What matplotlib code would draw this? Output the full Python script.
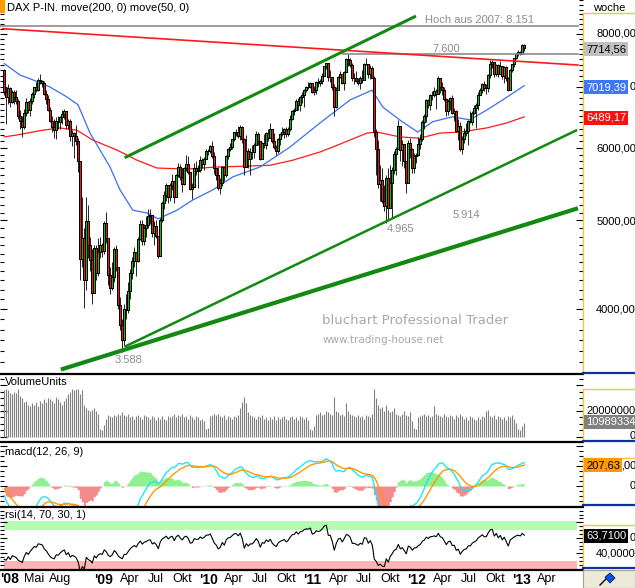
import numpy as np
import pandas as pd
import matplotlib
matplotlib.use('Agg')
import matplotlib.pyplot as plt
import matplotlib.dates as mdates
from matplotlib.lines import Line2D
from matplotlib.patches import Rectangle, Polygon
from matplotlib.ticker import FixedLocator, NullFormatter

plt.rcParams['font.family'] = ['Liberation Sans', 'DejaVu Sans']

# weekly closes before the visible range, only used to warm up macd / rsi
pre_close = [8060, 8090, 7900, 7450, 7450, 7450, 7270, 7560, 7640, 7450,
             7530, 7800, 7860, 7960, 8020, 7800, 7920, 7830, 7610, 7690,
             7570, 7870, 8030, 7950, 7990, 8070, 7810, 7300]

# weekly candles, Fri 18.01.2008 .. Fri 11.01.2013
close = [
    # 2008
    6900, 6820, 6970, 6730, 6900, 6830, 6750, 6510, 6420, 6320,
    6560, 6740, 6600, 6750, 6870, 6990, 6950, 7120, 7100, 7070,
    6880, 6780, 6600, 6420, 6330, 6280, 6420, 6400, 6480, 6540,
    6580, 6350, 6420, 6180, 6230, 6190, 6100, 5800, 4540, 4780,
    4300, 4990, 4700, 4530, 4170, 4670, 4380, 4620, 4700, 4630,
    # 2009
    4970, 4780, 4360, 4220, 4340, 4650, 4450, 4040, 3840, 3700,
    4000, 3990, 4190, 4380, 4520, 4620, 4510, 4770, 4950, 4750,
    4900, 4940, 5050, 5070, 4840, 4930, 4810, 4570, 5000, 5230,
    5330, 5460, 5310, 5460, 5520, 5300, 5600, 5720, 5580, 5480,
    5700, 5760, 5650, 5410, 5440, 5700, 5660, 5680, 5820, 5760,
    5830, 5960,
    # 2010
    5960, 6030, 5880, 5700, 5610, 5430, 5500, 5720, 5600, 5880,
    5990, 6020, 6130, 6240, 6250, 6180, 6330, 6140, 5720, 5950,
    5830, 5940, 5940, 6050, 6220, 6100, 5830, 6070, 6040, 6230,
    6150, 6290, 6110, 6010, 5950, 6130, 6210, 6250, 6300, 6210,
    6290, 6450, 6580, 6600, 6750, 6680, 6820, 6850, 6950, 7000,
    6990, 7060, 6910,
    # 2011
    6950, 7080, 7060, 7100, 7200, 7370, 7430, 7180, 7180, 7000,
    6660, 6950, 7180, 7220, 7070, 7260, 7510, 7490, 7400, 7150,
    7160, 7110, 7070, 7160, 7120, 7420, 7410, 7220, 7340, 7160,
    6240, 5990, 5480, 5540, 5250, 5190, 5570, 5160, 5500, 5680,
    5910, 5980, 6340, 5970, 6060, 5800, 5490, 6080, 5990, 5700,
    5880, 5900,
    # 2012
    6060, 6140, 6400, 6510, 6770, 6690, 6850, 6860, 6920, 6880,
    7160, 6990, 6950, 6780, 6580, 6760, 6800, 6560, 6580, 6270,
    6340, 5980, 6130, 6230, 6260, 6420, 6410, 6560, 6630, 6690,
    6860, 6940, 7040, 6970, 6970, 7210, 7410, 7450, 7220, 7400,
    7230, 7380, 7200, 7360, 7160, 6950, 7310, 7410, 7520, 7600,
    7640, 7610,
    # 2013
    7780, 7714.56]

high = [
    7320, 7000, 7050, 7000, 6950, 6950, 6950, 6780, 6600, 6500,
    6620, 6800, 6760, 6800, 6900, 7000, 7080, 7160, 7230, 7120,
    7100, 6950, 6850, 6650, 6500, 6450, 6480, 6500, 6500, 6600,
    6620, 6580, 6460, 6450, 6280, 6250, 6350, 6150, 5800, 5300,
    4900, 5300, 5200, 4800, 4650, 4700, 4700, 4780, 4800, 4720,
    4990, 5110, 4750, 4450, 4500, 4680, 4700, 4450, 4120, 3900,
    4050, 4150, 4280, 4420, 4560, 4680, 4620, 4800, 5000, 5000,
    4950, 5050, 5150, 5150, 5070, 4990, 5000, 4800, 5030, 5250,
    5380, 5500, 5460, 5500, 5620, 5500, 5620, 5780, 5760, 5700,
    5720, 5890, 5880, 5650, 5500, 5780, 5800, 5750, 5880, 5850,
    5870, 5980,
    5990, 6050, 6100, 5940, 5710, 5720, 5560, 5730, 5700, 5890,
    6000, 6080, 6140, 6250, 6290, 6340, 6350, 6340, 6150, 6200,
    6000, 6000, 6050, 6080, 6270, 6250, 6100, 6090, 6220, 6240,
    6300, 6390, 6290, 6230, 6050, 6150, 6230, 6320, 6310, 6330,
    6330, 6520, 6600, 6640, 6790, 6800, 6840, 6900, 6960, 7020,
    7080, 7080, 7040,
    7020, 7100, 7160, 7140, 7240, 7380, 7440, 7400, 7300, 7180,
    7050, 7000, 7200, 7280, 7230, 7280, 7520, 7600, 7520, 7430,
    7240, 7280, 7160, 7200, 7300, 7430, 7520, 7420, 7400, 7380,
    7200, 6300, 6120, 5750, 5700, 5460, 5600, 5700, 5750, 5720,
    5950, 6020, 6430, 6300, 6120, 6000, 5760, 6120, 6150, 6000,
    5920, 5930,
    6170, 6220, 6440, 6540, 6780, 6790, 6880, 6930, 6990, 6960,
    7190, 7130, 7080, 7000, 6800, 6790, 6830, 6860, 6630, 6600,
    6450, 6400, 6190, 6310, 6390, 6440, 6580, 6580, 6680, 6720,
    6900, 6970, 7060, 7110, 7050, 7230, 7480, 7480, 7440, 7420,
    7410, 7460, 7330, 7380, 7370, 7170, 7320, 7420, 7530, 7620,
    7670, 7660,
    7800, 7790]

low = [
    6850, 6380, 6700, 6650, 6720, 6700, 6700, 6450, 6300, 6170,
    6300, 6500, 6550, 6500, 6700, 6800, 6900, 6930, 7050, 7000,
    6850, 6700, 6580, 6400, 6250, 6150, 6130, 6300, 6300, 6380,
    6450, 6300, 6300, 6100, 6030, 5850, 6050, 5650, 4300, 4450,
    4014, 4200, 4550, 4400, 4050, 4200, 4300, 4350, 4550, 4560,
    4600, 4720, 4250, 4150, 4200, 4280, 4400, 4000, 3800, 3588,
    3650, 3900, 3960, 4100, 4320, 4450, 4350, 4500, 4760, 4700,
    4700, 4800, 4900, 4950, 4800, 4700, 4780, 4550, 4580, 4980,
    5150, 5250, 5230, 5250, 5400, 5230, 5300, 5580, 5530, 5370,
    5460, 5660, 5620, 5400, 5280, 5450, 5600, 5420, 5650, 5700,
    5680, 5830,
    5900, 5920, 5850, 5620, 5540, 5400, 5350, 5450, 5520, 5580,
    5840, 5950, 5990, 6100, 6180, 6150, 6120, 6080, 5600, 5800,
    5700, 5600, 5840, 5850, 6050, 6050, 5820, 5840, 6000, 5980,
    6100, 6150, 6070, 5990, 5900, 5930, 6050, 6190, 6150, 6170,
    6180, 6270, 6440, 6520, 6600, 6600, 6580, 6720, 6650, 6900,
    6960, 6970, 6890,
    6850, 6880, 7000, 7010, 7050, 7200, 7320, 7100, 7080, 6950,
    6500, 6640, 6950, 7150, 7050, 6950, 7260, 7380, 7350, 7100,
    7050, 7080, 7030, 6960, 7060, 7130, 7390, 7150, 7130, 7150,
    6170, 5600, 5430, 5250, 5220, 5120, 4965, 5000, 5180, 5030,
    5620, 5600, 5990, 5800, 5740, 5700, 5360, 5520, 5850, 5640,
    5630, 5780,
    5880, 5980, 6100, 6300, 6400, 6640, 6600, 6770, 6820, 6620,
    6900, 6890, 6850, 6760, 6500, 6520, 6600, 6530, 6420, 6250,
    6120, 5960, 5914, 6080, 6180, 6050, 6390, 6350, 6530, 6310,
    6600, 6860, 6890, 6930, 6870, 6900, 7150, 7340, 7180, 7200,
    7170, 7230, 7130, 7070, 7110, 6920, 6960, 7270, 7360, 7500,
    7560, 7580,
    7600, 7660]

# weekly volume in millions of units
volume_m = [
    36, 37, 36, 34, 33, 35, 34, 37, 32, 30,
    27, 28, 25, 24, 26, 25, 27, 24, 28, 26,
    29, 27, 30, 29, 28, 26, 31, 29, 27, 25,
    28, 30, 33, 35, 37, 36, 37, 37, 33, 36,
    25, 22, 21, 20, 21, 22, 20, 18, 6, 5,
    9, 14, 17, 16, 15, 17, 16, 18, 17, 19,
    17, 16, 18, 15, 16, 14, 16, 17, 15, 14,
    17, 16, 15, 14, 16, 15, 13, 15, 14, 16,
    14, 13, 16, 15, 16, 18, 15, 17, 16, 18,
    15, 16, 14, 17, 15, 14, 16, 15, 13, 14,
    12, 6,
    7, 16, 17, 18, 17, 18, 16, 15, 17, 14,
    16, 15, 14, 16, 15, 17, 22, 27, 31, 26,
    19, 17, 16, 15, 14, 16, 15, 17, 14, 15,
    13, 15, 14, 16, 13, 15, 14, 15, 16, 14,
    13, 15, 16, 14, 15, 13, 16, 15, 14, 15,
    13, 6, 5,
    8, 17, 18, 19, 17, 18, 20, 19, 18, 17,
    31, 20, 19, 17, 18, 16, 26, 20, 18, 17,
    16, 15, 17, 15, 16, 14, 17, 16, 15, 18,
    37, 30, 25, 22, 23, 20, 25, 21, 19, 20,
    22, 18, 17, 16, 18, 20, 17, 16, 19, 12,
    7, 6,
    15, 16, 17, 18, 16, 17, 15, 16, 24, 18,
    17, 16, 15, 18, 16, 15, 17, 16, 14, 17,
    15, 18, 16, 14, 15, 13, 16, 15, 14, 13,
    15, 14, 16, 15, 20, 21, 16, 15, 17, 14,
    16, 15, 14, 15, 13, 16, 15, 17, 14, 11,
    6, 5,
    8, 10.989334]

# moving averages
ma200_dates = ['2008-01-18', '2008-03-02', '2008-06-01', '2008-07-31', '2008-09-28',
               '2008-11-23', '2009-02-15', '2009-04-26', '2009-07-05', '2009-10-18',
               '2010-01-31', '2010-05-02', '2010-08-05', '2010-10-25', '2011-01-27',
               '2011-03-13', '2011-07-11', '2011-08-15', '2011-11-02', '2012-01-11',
               '2012-03-22', '2012-05-31', '2012-09-01', '2012-11-10', '2013-01-11']
ma200_vals = [6170, 6200, 6275, 6310, 6275, 6120, 5970, 5820, 5705, 5690,
              5720, 5730, 5745, 5820, 5940, 6015, 6230, 6245, 6170, 6150,
              6230, 6245, 6310, 6390, 6489.17]
ma50_dates = ['2008-01-18', '2008-03-13', '2008-04-28', '2008-06-26', '2008-08-25',
              '2008-10-02', '2008-11-13', '2009-01-22', '2009-02-26', '2009-04-12',
              '2009-05-31', '2009-07-09', '2009-09-13', '2009-11-08', '2010-01-17',
              '2010-03-28', '2010-07-01', '2010-10-14', '2011-01-27', '2011-05-12',
              '2011-07-28', '2011-09-04', '2011-11-02', '2012-01-04', '2012-02-25',
              '2012-05-05', '2012-07-04', '2012-09-01', '2012-10-27', '2013-01-11']
ma50_vals = [7420, 7210, 7120, 6995, 6820, 6690, 6230, 5720, 5400, 5130,
             5095, 5020, 5130, 5265, 5400, 5580, 5720, 6015, 6390, 6770,
             6940, 6650, 6440, 6245, 6410, 6490, 6440, 6600, 6770, 7019.39]

# trend lines: two dates, two prices
res_dates, res_vals = ['2008-01-13', '2013-07-18'], [8100, 7393]
top_dates, top_vals = ['2009-03-19', '2011-12-24'], [5865, 8348]
mid_dates, mid_vals = ['2009-03-19', '2013-07-11'], [3645, 6270]
low_dates, low_vals = ['2008-08-10', '2013-07-11'], [3441, 5148]

tick_dates = ['2008-05-01', '2008-08-01', '2009-01-01', '2009-04-01', '2009-07-01',
              '2009-10-01', '2010-01-01', '2010-04-01', '2010-07-01', '2010-10-01',
              '2011-01-01', '2011-04-01', '2011-07-01', '2011-10-01', '2012-01-01',
              '2012-04-01', '2012-07-01', '2012-10-01', '2013-01-01', '2013-04-01']
tick_labels = ['Mai', 'Aug', "'09", 'Apr', 'Jul', 'Okt', "'10", 'Apr', 'Jul', 'Okt',
               "'11", 'Apr', 'Jul', 'Okt', "'12", 'Apr', 'Jul', 'Okt', "'13", 'Apr']

# ---------------------------------------------------------------- layout
W, H = 635, 588
fig = plt.figure(figsize=(W / 100, H / 100), dpi=100)
fig.patch.set_facecolor('white')


def rect(x0, y0, x1, y1):
    return [x0 / W, 1 - y1 / H, (x1 - x0) / W, (y1 - y0) / H]


def fx(x):
    return x / W


def fy(y):
    return 1 - y / H


def ftext(x, y, s, **kw):
    kw.setdefault('va', 'center')
    kw.setdefault('fontsize', 8)
    return fig.text(fx(x), fy(y), s, **kw)


def fline(x0, y0, x1, y1, **kw):
    fig.add_artist(Line2D([fx(x0), fx(x1)], [fy(y0), fy(y1)], **kw))


t0 = mdates.date2num(pd.Timestamp('2009-01-01'))
xlim = (t0 + (0 - 104) * 3.5, t0 + (583 - 104) * 3.5)


def price_at(y):
    return 6000 * 10 ** ((148 - y) / 915)


weeks = pd.date_range('2008-01-18', periods=len(close), freq='W-FRI')
d = mdates.date2num(weeks)
c = np.array(close, dtype=float)
o = np.array([pre_close[-1]] + close[:-1], dtype=float)
hi = np.array(high, dtype=float)
lo = np.array(low, dtype=float)


def setup(ax, ylim):
    ax.set_xlim(*xlim)
    ax.set_ylim(*ylim)
    for s in ax.spines.values():
        s.set_visible(False)
    ax.set_xticks([])
    ax.tick_params(axis='y', which='both', left=True, right=True, direction='in',
                   labelleft=False, labelright=False, width=0.8)
    ax.tick_params(axis='y', which='major', length=5)
    ax.tick_params(axis='y', which='minor', length=3)


# ---------------------------------------------------------------- price panel
ax = fig.add_axes(rect(0, 0, 583, 373))
ax.set_yscale('log')
setup(ax, (price_at(373), price_at(0)))
ax.yaxis.set_major_locator(FixedLocator([4000, 5000, 6000, 7000, 8000]))
ax.yaxis.set_minor_locator(FixedLocator(np.arange(3500, 8800, 100)))
ax.yaxis.set_major_formatter(NullFormatter())
ax.yaxis.set_minor_formatter(NullFormatter())

ax.plot(pd.to_datetime(ma200_dates), ma200_vals, color='#ff1a1a', lw=0.9, zorder=2)
ax.plot(pd.to_datetime(ma50_dates), ma50_vals, color='#3a6ff0', lw=0.9, zorder=2)

up = c >= o
ax.vlines(d, lo, hi, color='black', lw=0.6, zorder=3)
ax.bar(d, np.abs(c - o), bottom=np.minimum(o, c), width=6,
       color=np.where(up, '#1fb41f', '#e81818'), edgecolor='black', linewidth=0.4,
       antialiased=False, zorder=4)

ax.plot([xlim[0], mdates.date2num(pd.Timestamp('2013-07-18'))], [8151, 8151],
        color='#8c8c8c', lw=1.2, zorder=5)
ax.plot(pd.to_datetime(['2011-04-17', '2013-07-18']), [7600, 7600],
        color='#8c8c8c', lw=1.2, zorder=5)
ax.plot(pd.to_datetime(res_dates), res_vals, color='#ff1a1a', lw=1.2, zorder=5)
ax.plot(pd.to_datetime(top_dates), top_vals, color='#128a12', lw=2.2, zorder=5)
ax.plot(pd.to_datetime(mid_dates), mid_vals, color='#128a12', lw=1.8, zorder=5)
ax.plot(pd.to_datetime(low_dates), low_vals, color='#128a12', lw=3.0, zorder=5)

grey = '#8c8c8c'
ftext(425, 20, 'Hoch aus 2007: 8.151', color=grey)
ftext(432, 49, '7.600', color=grey)
ftext(115, 360, '3.588', color=grey)
ftext(387, 229, '4.965', color=grey)
ftext(453, 215, '5.914', color=grey)
ftext(322, 320, 'bluchart Professional Trader', color='#a8a8a8', fontsize=9.5,
      family='DejaVu Sans')
ftext(323, 340, 'www.trading-house.net', color='#a8a8a8', fontsize=7.5,
      family='DejaVu Sans')

fig.patches.append(Rectangle((0, fy(12)), fx(4), 12 / H, transform=fig.transFigure,
                             color='#ff9c00', zorder=6))
ftext(7, 8, 'DAX P-IN. move(200, 0) move(50, 0)')
ftext(593, 8, 'woche')

# ---------------------------------------------------------------- volume panel
axv = fig.add_axes(rect(0, 375, 583, 441))
setup(axv, (-(441 - 436.7) / 1.285 * 1e6, (436.7 - 375) / 1.285 * 1e6))
axv.yaxis.set_major_locator(FixedLocator([0, 20e6, 40e6]))
axv.yaxis.set_minor_locator(FixedLocator(np.arange(0, 50e6, 5e6)))
axv.vlines(d, 0, np.array(volume_m) * 1e6, color='#808080', lw=0.8)
ftext(5, 382, 'VolumeUnits')

# ---------------------------------------------------------------- macd panel
allc = pd.Series(pre_close + close, dtype=float)
macd = allc.ewm(span=12, adjust=False).mean() - allc.ewm(span=26, adjust=False).mean()
signal = macd.ewm(span=9, adjust=False).mean()
n = len(close)
macd = macd.values[-n:]
signal = signal.values[-n:]
hist = macd - signal

axm = fig.add_axes(rect(0, 443, 583, 506))
setup(axm, (-(506 - 486) / 0.1, (486 - 443) / 0.1))
axm.yaxis.set_major_locator(FixedLocator([0, 200, 400]))
axm.yaxis.set_minor_locator(FixedLocator(np.arange(-200, 450, 50)))
axm.fill_between(d, 0, np.clip(hist, 0, None), step='mid', color='#8ef08e', lw=0)
axm.fill_between(d, 0, np.clip(hist, None, 0), step='mid', color='#f58a8a', lw=0)
axm.plot(d, macd, color='#22e4f4', lw=1)
axm.plot(d, signal, color='#ff9900', lw=1)
ftext(5, 452, 'macd(12, 26, 9)')

# ---------------------------------------------------------------- rsi panel
delta = allc.diff()
gain = delta.clip(lower=0).ewm(alpha=1 / 14, adjust=False).mean()
loss = (-delta.clip(upper=0)).ewm(alpha=1 / 14, adjust=False).mean()
rsi = (100 - 100 / (1 + gain / loss)).values[-n:]

axr = fig.add_axes(rect(0, 508, 583, 569))
r_lo, r_hi = 70 - (569 - 530) / 0.775, 70 + (530 - 508) / 0.775
setup(axr, (r_lo, r_hi))
axr.yaxis.set_major_locator(FixedLocator([40, 60, 80]))
axr.yaxis.set_minor_locator(FixedLocator(np.arange(20, 100, 5)))
band_x = [t0 + (4 - 104) * 3.5, t0 + (577 - 104) * 3.5]
axr.fill_between(band_x, 70, 81.6, color='#b4fcb4', lw=0)
axr.fill_between(band_x, r_lo, 30, color='#fcb4b4', lw=0)
axr.plot(d, rsi, color='black', lw=0.8)
ftext(5, 515, 'rsi(14, 70, 30, 1)')

axr.set_xticks(mdates.date2num(pd.to_datetime(tick_dates)))
axr.set_xticklabels(tick_labels)
axr.tick_params(axis='x', length=0, pad=3, labelsize=9)
for lab in axr.get_xticklabels():
    if lab.get_text().startswith("'"):
        lab.set_fontweight('bold')
        lab.set_fontsize(10)
ftext(0, 579, "'08", fontsize=10, fontweight='bold')

# ---------------------------------------------------------------- frames
for y in (374, 442, 507, 570):
    fline(0, y, 583, y, color='black', lw=1.6)
for top, bot in ((13, 372.5), (389, 441), (458, 504.5), (525, 568)):
    fline(583, top, 635, top, color='#f2c53d', lw=1)
    fline(583, top, 583, bot, color='#f2c53d', lw=1)
    fline(583, bot, 635, bot, color='#1030a0', lw=1.6)

# right axis labels; where a value box sits on a label only its tail shows
for v, y in ((8000, 34), (6000, 148), (5000, 221), (4000, 309)):
    ftext(636, y, f'{v},00', ha='right')
ftext(636, 87, '0', ha='right')
ftext(636, 411, '20000000', ha='right')
ftext(636, 436, '0', ha='right')
ftext(636, 465, ',00', ha='right')
ftext(636, 486, '0', ha='right')
ftext(636, 538, '0', ha='right')
ftext(636, 553, '40,0000', ha='right')


def valbox(y, s, bg, fg):
    ftext(586, y, s, color=fg, bbox=dict(facecolor=bg, edgecolor='none', pad=1.2), zorder=8)


valbox(49, '7714,56', '#c0c0c0', 'black')
valbox(87, '7019,39', '#3c78f5', 'white')
valbox(118, '6489,17', '#ff1010', 'white')
valbox(422, '10989334', '#808080', 'white')
valbox(465, '207,63', '#ff9900', 'black')
valbox(536, '63,7100', 'black', 'white')

# bottom right button with pin
fig.patches.append(Rectangle((fx(583), 0), fx(52), 18 / H, transform=fig.transFigure,
                             facecolor='#ece9d8', edgecolor='#a0a0a0', lw=0.8, zorder=6))
fline(600, 585, 607, 578, color='black', lw=1, zorder=7)
fig.patches.append(Polygon([(fx(605), fy(577)), (fx(610), fy(573)), (fx(615), fy(578)),
                            (fx(610), fy(583))], closed=True, transform=fig.transFigure,
                           facecolor='#1050e0', edgecolor='#002080', lw=0.6, zorder=7))

fig.savefig('out.png', dpi=100)
